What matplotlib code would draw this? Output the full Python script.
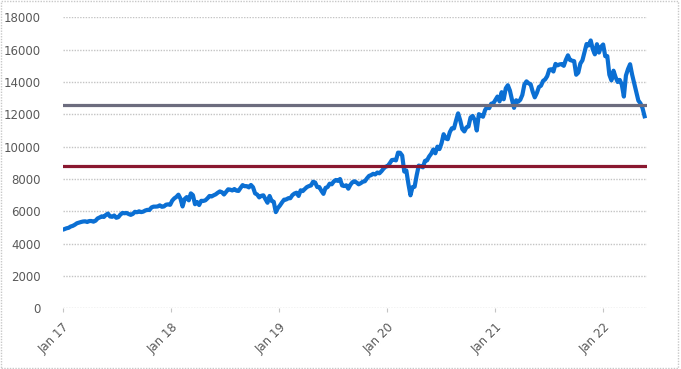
"""
Index level, weekly closes Jan 2017 - May 2022, with two horizontal reference levels.
"""

import numpy as np
import pandas as pd
import matplotlib
matplotlib.use("Agg")
import matplotlib.pyplot as plt
import matplotlib.dates as mdates
from matplotlib.patches import Rectangle

# ── data (weekly Friday closes) ─────────────────────────────────────────
vals_2017 = [4900, 4950, 4980, 5060,
             5100, 5170, 5260, 5300,
             5340, 5370, 5380, 5340, 5400,
             5400, 5360, 5420, 5560,
             5620, 5690, 5650, 5780,
             5860, 5680, 5660, 5740, 5600,
             5640, 5800, 5900, 5880,
             5900, 5830, 5780, 5840,
             5970, 5940, 6000, 5950, 5980,
             6050, 6090, 6080, 6240,
             6290, 6290, 6300, 6370,
             6280, 6300, 6410, 6430, 6400]
vals_2018 = [6660, 6800, 6890, 7030,
             6780, 6300, 6760, 6880,
             6680, 7110, 7000, 6440, 6580,
             6390, 6650, 6640, 6680,
             6800, 6950, 6920, 6990,
             7050, 7150, 7230, 7180, 7040,
             7200, 7360, 7340, 7290,
             7380, 7280, 7260, 7450, 7620,
             7550, 7560, 7480, 7630,
             7490, 7110, 7040, 6860,
             6960, 6990, 6750, 6530, 6950,
             6640, 6590, 5950, 6200]
vals_2019 = [6360, 6550, 6720, 6730,
             6810, 6810, 7000, 7100,
             7150, 6950, 7300, 7250, 7380,
             7500, 7560, 7600, 7830,
             7780, 7500, 7500, 7270, 7080,
             7450, 7500, 7710, 7670,
             7850, 7940, 7880, 8000,
             7600, 7560, 7610, 7400, 7640,
             7800, 7860, 7780, 7670,
             7740, 7830, 7860, 8040,
             8190, 8240, 8320, 8280, 8400,
             8350, 8480, 8640, 8760]
vals_2020 = [8800, 8970, 9170, 9190, 9150,
             9630, 9620, 9450, 8460,
             8530, 7700, 6990, 7500,
             7520, 8230, 8830, 8790,
             8720, 9120, 9150, 9390, 9560,
             9820, 9590, 10000, 9850,
             10210, 10770, 10510, 10460, 10900,
             11140, 11130, 11620, 12060,
             11630, 11090, 10940, 11190,
             11250, 11800, 11900, 11650, 11000,
             12010, 11940, 11850, 12260,
             12460, 12380, 12660, 12680]
vals_2021 = [12890, 13100, 12800, 13370, 12930,
             13610, 13800, 13470, 12900,
             12400, 12870, 12780, 12900,
             13200, 13850, 14040, 13920, 13860,
             13400, 13050, 13320, 13690,
             13770, 14070, 14160, 14360,
             14760, 14790, 14650, 15120, 15030,
             15090, 15110, 15000, 15370,
             15650, 15360, 15320, 15290,
             14450, 14580, 15140, 15340, 15850,
             16350, 16260, 16570, 16030,
             15710, 16340, 15820, 16180, 16320]
vals_2022 = [15600, 15600, 14450, 14100,
             14700, 14300, 14000, 14130,
             13840, 13100, 14400, 14800,
             15100, 14450, 13900, 13380, 12850,
             12680, 12390, 11880]

level_upper = 12600
level_lower = 8800

tick_years = [2017, 2018, 2019, 2020, 2021, 2022]
tick_labels = ["Jan 17", "Jan 18", "Jan 19", "Jan 20", "Jan 21", "Jan 22"]

values = vals_2017 + vals_2018 + vals_2019 + vals_2020 + vals_2021 + vals_2022
dates = pd.date_range("2017-01-06", periods=len(values), freq="W-FRI")

# ── figure ──────────────────────────────────────────────────────────────
plt.rcParams.update({"font.family": "DejaVu Sans", "font.size": 8})
fig = plt.figure(figsize=(6.81, 3.69), dpi=100)
ax = fig.add_axes([0.0925, 0.1645, 0.8575, 0.7885])

GREY_TXT = "#595959"

ax.plot(dates, values, color="#0b6fd3", lw=3.0, solid_joinstyle="round", zorder=3)
ax.axhline(level_upper, color="#6c6c7e", lw=2.3, zorder=4)
ax.axhline(level_lower, color="#8a1830", lw=2.3, zorder=4)

ax.set_ylim(0, 18000)
ax.set_yticks(np.arange(0, 18001, 2000))
ax.set_xlim(pd.Timestamp("2017-01-01"), pd.Timestamp("2022-05-28"))
ax.set_xticks([pd.Timestamp(f"{y}-01-01") for y in tick_years])
ax.set_xticklabels(tick_labels, rotation=45, ha="right", rotation_mode="anchor")

ax.yaxis.grid(True, color="#c4c4c4", lw=1.0, ls=(0, (1, 1)), zorder=0)
ax.set_axisbelow(True)
for sp in ax.spines.values():
    sp.set_visible(False)

ax.tick_params(axis="y", length=0, pad=16, colors=GREY_TXT, labelsize=8.5)
ax.tick_params(axis="x", length=3, width=0.8, color="#c4c4c4", pad=6,
               colors=GREY_TXT, labelsize=8.5)
ax.tick_params(axis="x", color="#c4c4c4")

# dotted outer frame
fig.patches.append(Rectangle((0.002, 0.004), 0.994, 0.992, transform=fig.transFigure,
                             fill=False, ec="#c8c8c8", lw=1.0, ls=(0, (1, 1))))

fig.savefig("out.png", dpi=100)
